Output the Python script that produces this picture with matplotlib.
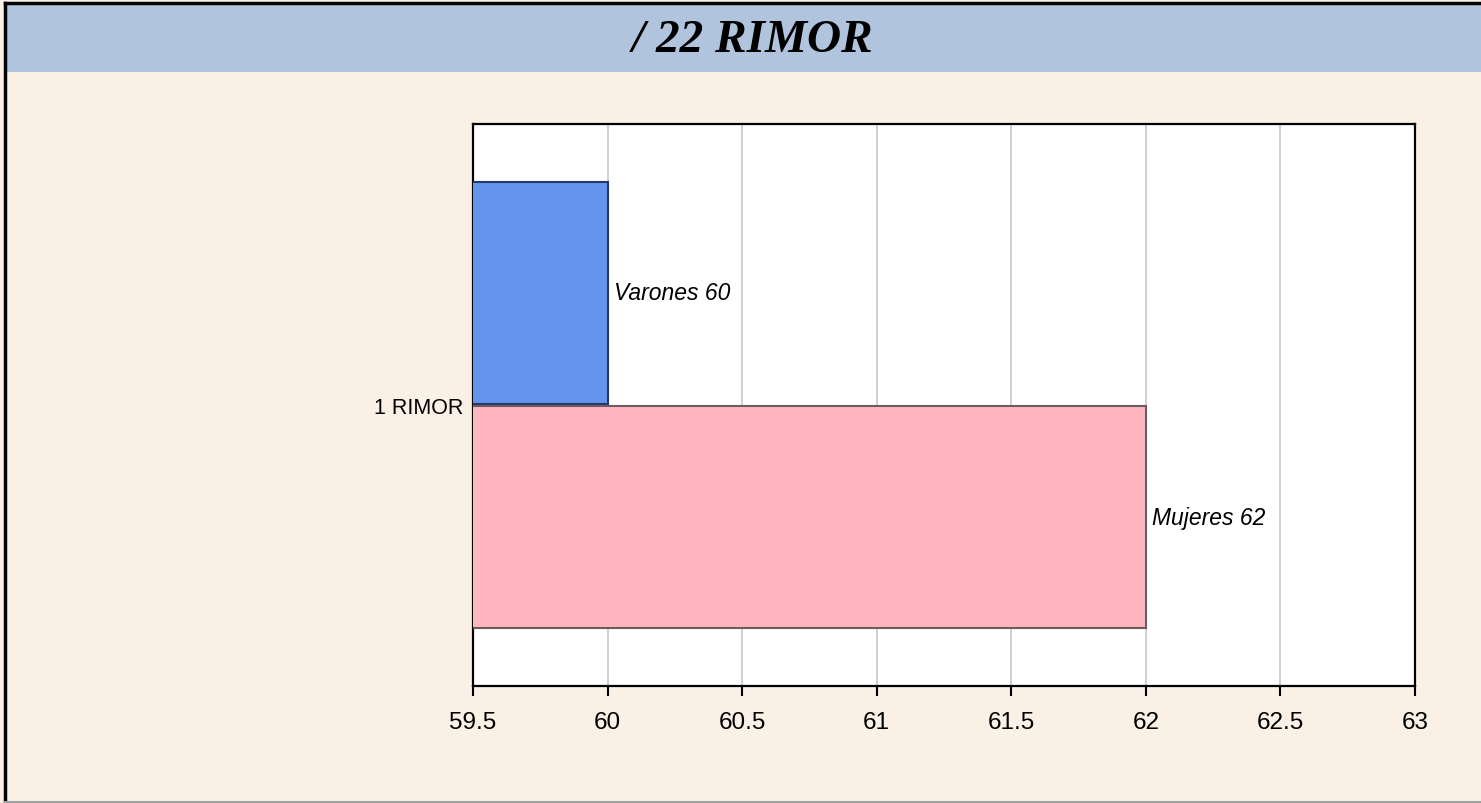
import numpy as np
import matplotlib
matplotlib.use('Agg')
import matplotlib.pyplot as plt
from matplotlib.patches import Rectangle
from matplotlib.lines import Line2D

# data
title = '/ 22 RIMOR'
category = '1 RIMOR'
series_names = ['Varones', 'Mujeres']
series_values = [60, 62]
series_colors = ['#6495ED', '#FFB6C1']
edge_colors = ['#23396B', '#6E5A60']
xticks = [59.5, 60, 60.5, 61, 61.5, 62, 62.5, 63]

W, H = 1481, 804
fig = plt.figure(figsize=(W/100, H/100), dpi=100, facecolor='#FAF0E6')

# header band + frame
fig.add_artist(Rectangle((6/W, (H-73)/H), 1-6/W, 68/H, transform=fig.transFigure,
                         facecolor='#B0C4DE', edgecolor='none', zorder=0))
fig.add_artist(Line2D([5/W, 5/W], [0, (H-4)/H], transform=fig.transFigure, color='black', lw=2.5))
fig.add_artist(Line2D([5/W, 1], [(H-4)/H, (H-4)/H], transform=fig.transFigure, color='black', lw=2.5))
fig.add_artist(Line2D([5/W, 1], [1.5/H, 1.5/H], transform=fig.transFigure, color='#A0A0A0', lw=1.5))
fig.text(753/W, (H-41)/H, title, ha='center', va='center', fontsize=34,
         family='Liberation Serif', fontweight='bold', fontstyle='italic')

ax = fig.add_axes([473/W, (H-687)/H, 942/W, 562/H])
ax.set_facecolor('white')

ypos = [0.2, -0.2]
bh = 0.395
for i in range(len(series_names)):
    ax.barh(ypos[i], series_values[i], height=bh, color=series_colors[i],
            edgecolor=edge_colors[i], linewidth=1.5, zorder=3)
    ax.annotate(f'{series_names[i]} {series_values[i]}', xy=(series_values[i], ypos[i]),
                xytext=(4.5, 0), textcoords='offset points', ha='left', va='center',
                fontsize=16.5, fontstyle='italic', family='Liberation Sans', zorder=4)

ax.set_xlim(xticks[0], xticks[-1])
ax.set_ylim(-0.5, 0.5)
ax.set_xticks(xticks)
ax.set_xticklabels([f'{t:g}' for t in xticks], fontsize=17.5, family='Liberation Sans')
ax.set_yticks([0])
ax.set_yticklabels([category], fontsize=15.5, family='Liberation Sans')
ax.tick_params(axis='y', length=0, pad=7)
ax.tick_params(axis='x', length=7, width=1.5, pad=11, direction='out')
ax.grid(axis='x', color='#C8C8C8', linewidth=1.2, zorder=0)
ax.set_axisbelow(True)
for s in ax.spines.values():
    s.set_linewidth(1.6)
    s.set_color('black')

fig.savefig('out.png', dpi=100, facecolor=fig.get_facecolor())
